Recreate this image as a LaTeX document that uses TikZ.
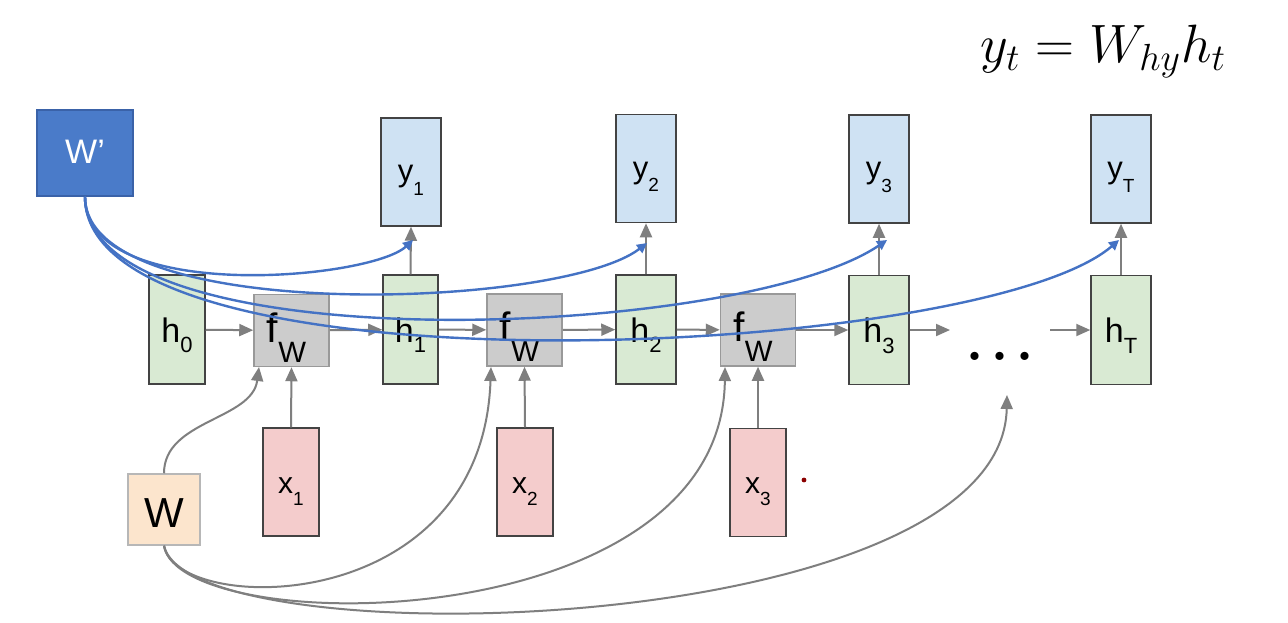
\RequirePackage{fix-cm}
\documentclass[tikz,border=0pt]{standalone}
\usepackage{fontspec}
\newfontfamily\arial{Liberation Sans}
\usetikzlibrary{arrows.meta}
\definecolor{boxline}{HTML}{434343}
\definecolor{yfill}{HTML}{CFE2F3}
\definecolor{hfill}{HTML}{D9EAD3}
\definecolor{xfill}{HTML}{F4CCCC}
\definecolor{ffill}{HTML}{CCCCCC}
\definecolor{fline}{HTML}{999999}
\definecolor{wfill}{HTML}{FCE5CD}
\definecolor{wline}{HTML}{B7B7B7}
\definecolor{wpfill}{HTML}{4A7BC9}
\definecolor{wpline}{HTML}{3A62A8}
\definecolor{bcurve}{HTML}{4472C4}
\definecolor{garr}{HTML}{7F7F7F}
\definecolor{reddot}{HTML}{8B0000}
\newcommand{\Lab}[5]{{\fontsize{#1}{#1}\selectfont #3}\raisebox{-#5}{\fontsize{#2}{#2}\selectfont #4}}
\newcommand{\hl}[1]{\Lab{17}{11}{h}{#1}{5.35pt}}
\newcommand{\yl}[1]{\Lab{15.5}{9.5}{y}{#1}{6.7pt}}
\newcommand{\xl}[1]{\Lab{15}{9.5}{x}{#1}{5.85pt}}
\newcommand{\fl}{\Lab{20.5}{14.7}{f}{W}{10pt}\kern5pt}
\begin{document}
\begin{tikzpicture}[x=0.5pt,y=-0.5pt,font=\arial,
  box/.style={draw=boxline, line width=0.75pt, inner sep=0pt, text depth=0pt},
  ybox/.style={box, fill=yfill, minimum width=30pt, minimum height=54pt, text height=9.7pt},
  hbox/.style={box, fill=hfill, minimum height=54.5pt, text height=12.5pt},
  fwbox/.style={box, draw=fline, fill=ffill, minimum width=37.5pt, minimum height=36pt, text height=11.5pt},
  xbox/.style={box, fill=xfill, minimum width=28pt, minimum height=54pt, text height=11.3pt},
  garrow/.style={draw=garr, line width=1pt, -{Triangle[length=7pt,width=6pt]}},
  barrow/.style={draw=bcurve, line width=1.2pt, -{Triangle[length=5pt,width=5pt]}}]
\useasboundingbox (0,0) rectangle (1288,622);
\fill[white] (0,0) rectangle (1288,622);

% equation
\node[anchor=base west, inner sep=0pt, font=\fontsize{27}{27}\selectfont] (eq) at (980,62) {$y_t = W_{hy} h_t$};

% W' box
\node[box, draw=wpline, fill=wpfill, text=white, minimum width=48pt, minimum height=43pt, text height=10pt] (Wp) at (85,153) {\fontsize{17}{17}\selectfont W’};

% W box
\node[box, draw=wline, fill=wfill, minimum width=36pt, minimum height=35.5pt, text height=17.5pt] (W) at (164,509.5) {\fontsize{21}{21}\selectfont W};

% outputs
\node[ybox] (y1) at (411,172) {\yl{1}};
\node[ybox] (y2) at (646,168.5) {\yl{2}};
\node[ybox] (y3) at (879,169) {\yl{3}};
\node[ybox] (yT) at (1121,169) {\yl{T}};

% hidden states
\node[hbox, minimum width=28pt] (h0) at (177,329.5) {\hl{0}};
\node[hbox, minimum width=27.5pt] (h1) at (410.5,329.5) {\hl{1}};
\node[hbox, minimum width=30pt] (h2) at (646,329.5) {\hl{2}};
\node[hbox, minimum width=30pt] (h3) at (879,330) {\hl{3}};
\node[hbox, minimum width=30pt] (hT) at (1121,330) {\hl{T}};

% f_W boxes
\node[fwbox] (f1) at (291.5,330.5) {\fl};
\node[fwbox] (f2) at (524.5,330) {\fl};
\node[fwbox] (f3) at (758,330) {\fl};

% inputs
\node[xbox] (x1) at (291,482) {\xl{1}};
\node[xbox] (x2) at (525,482) {\xl{2}};
\node[xbox] (x3) at (758,482.5) {\xl{3}};

% dots
\node[anchor=base, inner sep=0pt, font=\fontsize{50}{50}\selectfont] (dots) at (1000,360) {...};

% free ends
\coordinate (c1) at (950,330);
\coordinate (c2) at (1050,330);
\coordinate (a1) at (259,367);
\coordinate (a2) at (491,367);
\coordinate (a3) at (725,367);
\coordinate (a4) at (1007,395);
\coordinate (t1) at (413,240);
\coordinate (t2) at (647,243);
\coordinate (t3) at (887,240);
\coordinate (t4) at (1119,240);

% horizontal chain
\draw[garrow] (h0) -- (f1);
\draw[garrow] (f1) -- (h1);
\draw[garrow] (h1) -- (f2);
\draw[garrow] (f2) -- (h2);
\draw[garrow] (h2) -- (f3);
\draw[garrow] (f3) -- (h3);
\draw[garrow] (h3.east) -- (c1);
\draw[garrow] (c2) -- (hT.west);

% h -> y
\draw[garrow] (h1.north) -- (y1.south);
\draw[garrow] (h2.north) -- (y2.south);
\draw[garrow] (h3.north) -- (y3.south);
\draw[garrow] (hT.north) -- (yT.south);

% x -> f
\draw[garrow] (x1.north) -- (f1.south);
\draw[garrow] (x2.north) -- (f2.south);
\draw[garrow] (x3.north) -- (f3.south);

% W curves
\draw[garrow] (W.north) .. controls (164,420) and (252,420) .. (a1);
\draw[garrow] (W.south) .. controls (175,615) and (482,620) .. (a2);
\draw[garrow] (W.south) .. controls (180,640) and (722,640) .. (a3);
\draw[garrow] (W.south) .. controls (190,660) and (1002,640) .. (a4);

% W' curves
\draw[barrow] (Wp.south) .. controls (85,305) and (370,280) .. (t1);
\draw[barrow] (Wp.south) .. controls (85,325) and (560,310) .. (t2);
\draw[barrow] (Wp.south) .. controls (85,365) and (740,340) .. (t3);
\draw[barrow] (Wp.south) .. controls (85,400) and (980,360) .. (t4);

% small red dot
\fill[reddot] (804,480) circle (1.2pt);
\end{tikzpicture}
\end{document}
